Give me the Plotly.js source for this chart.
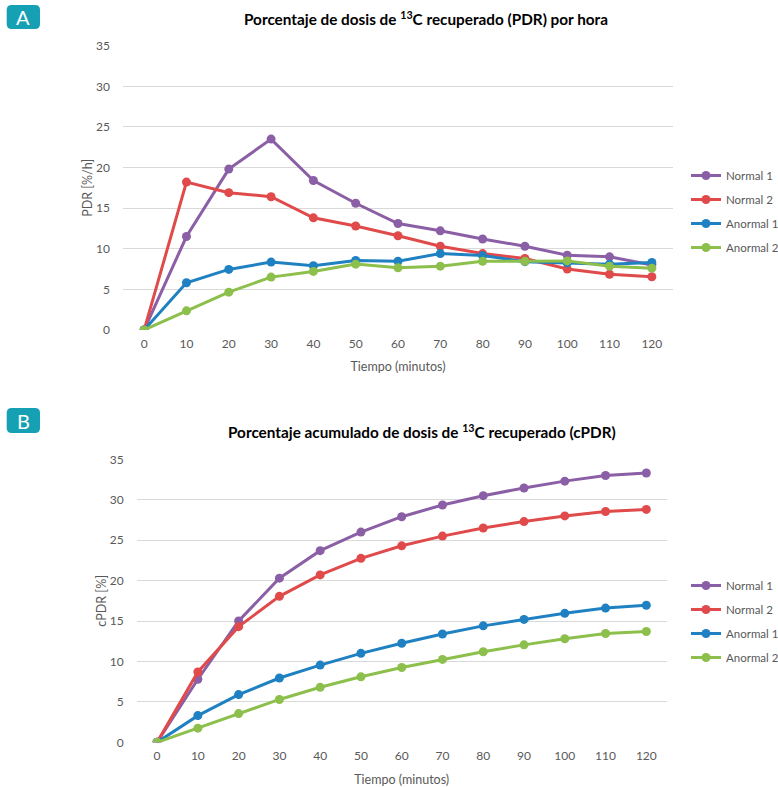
<!DOCTYPE html>
<html><head><meta charset="utf-8">
<script src="https://cdn.plot.ly/plotly-3.0.1.min.js"></script>
<style>html,body{margin:0;padding:0;background:#fff}#chart{width:778px;height:787px}</style>
</head><body><div id="chart"></div>
<script>
const tiempo = [0,10,20,30,40,50,60,70,80,90,100,110,120];
const seriesNames = ["Normal 1","Normal 2","Anormal 1","Anormal 2"];
const colors = ["#8b5fa5","#e04a4a","#1f80c2","#8cbf4b"];

// Panel A: PDR (%/h)
const pdrNormal1  = [0,11.5,19.8,23.5,18.4,15.6,13.1,12.2,11.2,10.3,9.2,9.0,8.0];
const pdrNormal2  = [0,18.2,16.9,16.4,13.8,12.8,11.6,10.3,9.4,8.8,7.5,6.85,6.55];
const pdrAnormal1 = [0,5.8,7.45,8.35,7.9,8.55,8.45,9.4,9.15,8.4,8.25,8.1,8.3];
const pdrAnormal2 = [0,2.35,4.65,6.5,7.2,8.1,7.65,7.85,8.45,8.45,8.5,7.85,7.6];

// Panel B: cPDR (%)
const cpdrNormal1  = [0,7.8,15.0,20.3,23.7,26.0,27.9,29.35,30.5,31.45,32.3,33.0,33.3];
const cpdrNormal2  = [0,8.7,14.3,18.05,20.7,22.75,24.3,25.5,26.5,27.3,28.0,28.55,28.8];
const cpdrAnormal1 = [0,3.3,5.9,7.95,9.55,11.0,12.25,13.4,14.4,15.2,15.95,16.6,16.95];
const cpdrAnormal2 = [0,1.75,3.55,5.3,6.8,8.1,9.25,10.25,11.2,12.05,12.8,13.45,13.7];

const titleA = "Porcentaje de dosis de <sup>13</sup>C recuperado (PDR) por hora";
const titleB = "Porcentaje acumulado de dosis de <sup>13</sup>C recuperado (cPDR)";
const xTitle = "Tiempo (minutos)";
const yTitleA = "PDR [%/h]";
const yTitleB = "cPDR [%]";
const yTicks = [0,5,10,15,20,25,30,35];

const FONT = "Lato, 'Open Sans', sans-serif";
const dataA = [pdrNormal1,pdrNormal2,pdrAnormal1,pdrAnormal2];
const dataB = [cpdrNormal1,cpdrNormal2,cpdrAnormal1,cpdrAnormal2];

const traces = [];
dataA.forEach((ys,i)=>traces.push({
  x: tiempo, y: ys, name: seriesNames[i], type:'scatter', mode:'lines+markers',
  line:{color:colors[i], width:3}, marker:{color:colors[i], size:9},
  xaxis:'x', yaxis:'y', legend:'legend', legendgroup:'a'+i
}));
dataB.forEach((ys,i)=>traces.push({
  x: tiempo, y: ys, name: seriesNames[i], type:'scatter', mode:'lines+markers',
  line:{color:colors[i], width:3}, marker:{color:colors[i], size:9},
  xaxis:'x2', yaxis:'y2', legend:'legend2', legendgroup:'b'+i
}));

const W=778, H=787;
const px = v=>v/W, py = v=>1-v/H;

const xCommon = {
  range:[-5,125], tickvals: tiempo, ticktext: tiempo.map(String),
  showgrid:false, zeroline:false, showline:false, ticks:'',
  tickfont:{family:FONT,size:12,color:'#595959'}, ticklabelstandoff:5,
  fixedrange:true, automargin:false
};
const yCommon = {
  range:[0,35], tickvals:yTicks, showgrid:true, gridcolor:'#d9d9d9', gridwidth:1,
  zeroline:false, showline:false, ticks:'',
  tickfont:{family:FONT,size:12,color:'#595959'}, ticklabelstandoff:12,
  fixedrange:true, automargin:false
};

function badge(x0,y0,x1,y1){
  const r=5;
  const X0=px(x0),X1=px(x1),Y0=py(y0),Y1=py(y1);
  const rx=r/W, ry=r/H;
  return {type:'path', xref:'paper', yref:'paper', fillcolor:'#16a0b4', line:{width:0},
    path:`M ${X0+rx} ${Y0} L ${X1-rx} ${Y0} Q ${X1} ${Y0} ${X1} ${Y0-ry} L ${X1} ${Y1+ry} Q ${X1} ${Y1} ${X1-rx} ${Y1} L ${X0+rx} ${Y1} Q ${X0} ${Y1} ${X0} ${Y1+ry} L ${X0} ${Y0-ry} Q ${X0} ${Y0} ${X0+rx} ${Y0} Z`};
}
const legendFont = {family:FONT,size:11.5,color:'#595959'};
const layout = {
  width:W, height:H, margin:{l:0,r:0,t:0,b:0,autoexpand:false},
  paper_bgcolor:'#fff', plot_bgcolor:'#fff',
  font:{family:FONT, color:'#595959'},
  xaxis: Object.assign({}, xCommon, {domain:[px(123),px(673)], anchor:'y',
    title:{text:xTitle, font:{family:FONT,size:12.5,color:'#595959'}, standoff:12}}),
  yaxis: Object.assign({}, yCommon, {domain:[py(329.9),py(45.7)], anchor:'x',
    title:{text:yTitleA, font:{family:FONT,size:12.5,color:'#595959'}, standoff:0}}),
  xaxis2: Object.assign({}, xCommon, {domain:[px(136.7),px(666.7)], anchor:'y2',
    title:{text:xTitle, font:{family:FONT,size:12.5,color:'#595959'}, standoff:12}}),
  yaxis2: Object.assign({}, yCommon, {domain:[py(742.3),py(459.3)], anchor:'x2',
    title:{text:yTitleB, font:{family:FONT,size:12.5,color:'#595959'}, standoff:0}}),
  showlegend:true,
  legend:{x:px(686), y:py(161), xanchor:'left', yanchor:'top', traceorder:'grouped',
    tracegroupgap:5, font:legendFont, bgcolor:'rgba(0,0,0,0)', itemwidth:30},
  legend2:{x:px(686), y:py(571), xanchor:'left', yanchor:'top', traceorder:'grouped',
    tracegroupgap:5, font:legendFont, bgcolor:'rgba(0,0,0,0)', itemwidth:30},
  shapes:[badge(6.7,5,40,29), badge(6.7,408,40,433)],
  annotations:[
    {text:'A', xref:'paper', yref:'paper', x:px(23.3), y:py(17), xanchor:'center', yanchor:'middle',
     showarrow:false, font:{family:FONT,size:20,color:'#ffffff'}},
    {text:'B', xref:'paper', yref:'paper', x:px(23.3), y:py(420.5), xanchor:'center', yanchor:'middle',
     showarrow:false, font:{family:FONT,size:20,color:'#ffffff'}},
    {text:'<b>'+titleA+'</b>', xref:'paper', yref:'paper', x:px(426), y:py(18), xanchor:'center', yanchor:'middle',
     showarrow:false, font:{family:FONT,size:15.3,color:'#000000'}},
    {text:'<b>'+titleB+'</b>', xref:'paper', yref:'paper', x:px(422), y:py(431), xanchor:'center', yanchor:'middle',
     showarrow:false, font:{family:FONT,size:15.3,color:'#000000'}}
  ]
};
Plotly.newPlot('chart', traces, layout, {displayModeBar:false, staticPlot:true});
</script></body></html>
